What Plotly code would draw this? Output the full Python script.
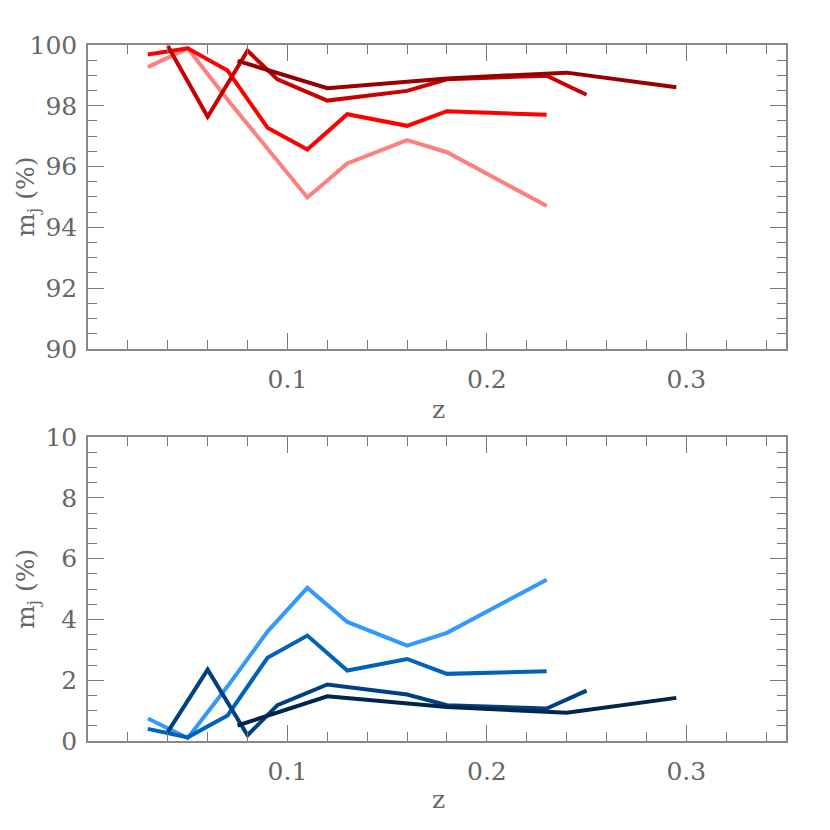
import plotly.graph_objects as go
from plotly.subplots import make_subplots

# ---- data ----
z_a = [0.03, 0.05, 0.07, 0.09, 0.11, 0.13, 0.16, 0.18, 0.23]
z_b = [0.04, 0.06, 0.08, 0.095, 0.12, 0.16, 0.18, 0.23, 0.25]
z_c = [0.075, 0.12, 0.18, 0.24, 0.295]

top_pink = [99.27, 99.89, 98.20, 96.60, 94.98, 96.10, 96.87, 96.47, 94.70]
top_red = [99.69, 99.89, 99.16, 97.28, 96.56, 97.72, 97.34, 97.82, 97.70]
top_dark = [99.97, 97.64, 99.81, 98.87, 98.17, 98.49, 98.87, 98.99, 98.36]
top_darkest = [99.48, 98.58, 98.90, 99.09, 98.61]

bot_light = [0.74, 0.10, 1.80, 3.60, 5.04, 3.92, 3.14, 3.56, 5.31]
bot_medium = [0.40, 0.12, 0.84, 2.74, 3.47, 2.32, 2.70, 2.21, 2.30]
bot_dark = [0.30, 2.35, 0.19, 1.18, 1.86, 1.53, 1.18, 1.07, 1.66]
bot_darkest = [0.51, 1.47, 1.12, 0.93, 1.42]

x_ticks = [0.1, 0.2, 0.3]
x_labels = ["0.1", "0.2", "0.3"]

top_series = [(z_a, top_pink, "#FF7F7F"), (z_a, top_red, "#FF0000"),
              (z_b, top_dark, "#C80000"), (z_c, top_darkest, "#960000")]
bot_series = [(z_a, bot_light, "#3399FF"), (z_a, bot_medium, "#0062B8"),
              (z_b, bot_dark, "#004080"), (z_c, bot_darkest, "#00264D")]

fig = make_subplots(rows=2, cols=1, vertical_spacing=0.127)

for xs, ys, c in top_series:
    fig.add_trace(go.Scatter(x=xs, y=ys, mode="lines", line=dict(color=c, width=4),
                             showlegend=False, cliponaxis=True), row=1, col=1)
for xs, ys, c in bot_series:
    fig.add_trace(go.Scatter(x=xs, y=ys, mode="lines", line=dict(color=c, width=4),
                             showlegend=False, cliponaxis=True), row=2, col=1)

font = dict(family="DejaVu Serif", size=25, color="#666666")
axis_common = dict(showgrid=False, zeroline=False, showline=True, linecolor="#888888",
                   linewidth=1.5, mirror="allticks", ticks="inside", tickcolor="#777777",
                   tickwidth=1, ticklen=16, tickfont=font)

for r in (1, 2):
    fig.update_xaxes(range=[0, 0.35], tickvals=x_ticks, ticktext=x_labels,
                     minor=dict(ticks="inside", dtick=0.02, tick0=0, ticklen=9,
                                tickcolor="#777777", tickwidth=1),
                     ticklabelstandoff=7, row=r, col=1, **axis_common)

fig.update_yaxes(range=[90, 100], dtick=2, tick0=90,
                 minor=dict(ticks="inside", dtick=0.5, ticklen=9, tickcolor="#777777", tickwidth=1),
                 ticklabelstandoff=4, row=1, col=1, **axis_common)
fig.update_yaxes(range=[0, 10], dtick=2, tick0=0,
                 minor=dict(ticks="inside", dtick=0.5, ticklen=9, tickcolor="#777777", tickwidth=1),
                 ticklabelstandoff=4, row=2, col=1, **axis_common)

# page body has an 8px margin: shift plot area accordingly
fig.update_layout(
    width=830, height=830,
    margin=dict(l=80, r=52, t=37, b=96.5),
    plot_bgcolor="white", paper_bgcolor="white",
    font=font,
)

# domains: top 45..349 px, bottom 437.5..741.5 px (in window coordinates)
H = 830 - 37 - 96.5
fig.update_yaxes(domain=[1 - 304 / H, 1], row=1, col=1)
fig.update_yaxes(domain=[0, 304 / H], row=2, col=1)

W = 830 - 80 - 52
X0, YB = 88, 741.5
for ycen in (197, 589.5):
    fig.add_annotation(text="m<sub>j</sub> (%)", textangle=-90, xref="paper", yref="paper",
                       x=(27 - X0) / W, y=(YB - ycen) / H, showarrow=False,
                       xanchor="center", yanchor="middle", font=font)
for zy in (410, 800):
    fig.add_annotation(text="z", xref="paper", yref="paper",
                       x=(438 - X0) / W, y=(YB - zy) / H, showarrow=False,
                       xanchor="center", yanchor="middle", font=font)

fig.write_html("out.html")
